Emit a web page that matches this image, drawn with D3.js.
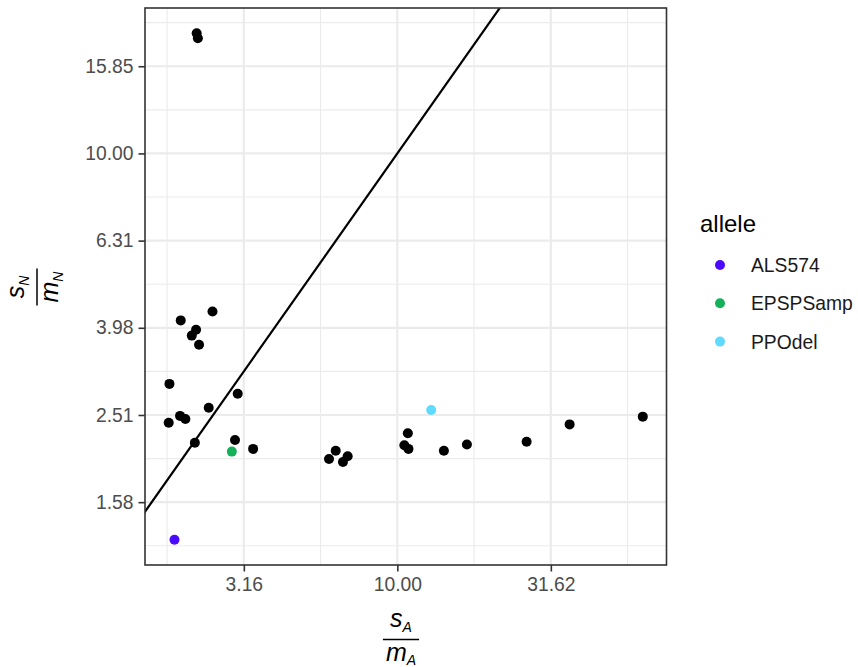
<!DOCTYPE html>
<html>
<head>
<meta charset="utf-8">
<script src="https://cdn.jsdelivr.net/npm/d3@7"></script>
<style>
  body { margin: 0; background: #fff; }
  svg { display: block; font-family: "Liberation Sans", Arial, Helvetica, sans-serif; }
</style>
</head>
<body>
<div id="viz"></div>
<script>
// s_A / m_A ratio per population (x)
var ratioA = [2.22, 2.24, 1.97, 2.50, 2.21, 2.14, 2.26, 1.81, 3.02, 2.43, 1.96, 2.04, 1.80,
  2.19, 2.96, 3.39, 2.89, 1.88, 5.99, 6.30, 6.65, 6.89, 10.82, 10.54, 10.87, 12.89,
  14.18, 16.85, 26.37, 36.41, 63.03];
// s_N / m_N ratio per population (y)
var ratioN = [18.86, 18.37, 4.14, 4.34, 3.94, 3.82, 3.64, 2.96, 2.81, 2.61, 2.50, 2.46, 2.41,
  2.17, 2.20, 2.10, 2.07, 1.30, 1.99, 2.08, 1.96, 2.02, 2.28, 2.14, 2.10, 2.58,
  2.08, 2.15, 2.18, 2.39, 2.49];
// allele label ('' = no highlighted allele)
var allele = ['', '', '', '', '', '', '', '', '', '', '', '', '',
  '', '', '', 'EPSPSamp', 'ALS574', '', '', '', '', '', '', '', 'PPOdel',
  '', '', '', '', ''];

var alleleNames = ['ALS574', 'EPSPSamp', 'PPOdel'];
var alleleColors = ['#4b0aff', '#14b05a', '#5fdbff'];
var xTickLogs = [0.5, 1, 1.5];
var yTickLogs = [0.2, 0.4, 0.6, 0.8, 1, 1.2];

(function () {
  'use strict';
  var W = 858, H = 667,
      left = 145, right = 666.5, top = 8, bottom = 565;

  var svg = d3.select('#viz').append('svg').attr('width', W).attr('height', H);
  svg.append('rect').attr('width', W).attr('height', H).attr('fill', '#fff');

  function expanded(vals) {
    var lo = d3.min(vals, function (v) { return Math.log10(v); }),
        hi = d3.max(vals, function (v) { return Math.log10(v); }),
        pad = (hi - lo) * 0.05;
    return [Math.pow(10, lo - pad), Math.pow(10, hi + pad)];
  }

  var x = d3.scaleLog().domain(expanded(ratioA)).range([left, right]),
      y = d3.scaleLog().domain(expanded(ratioN)).range([bottom, top]);

  var data = ratioA.map(function (a, i) { return {a: a, n: ratioN[i], allele: allele[i]}; });

  // minor breaks halfway between majors (in log space)
  var xMinor = [0.25, 0.75, 1.25, 1.75], yMinor = [0.1, 0.3, 0.5, 0.7, 0.9, 1.1, 1.3];

  var grid = svg.append('g');
  grid.selectAll('.xmin').data(xMinor).enter().append('line')
    .attr('x1', function (d) { return x(Math.pow(10, d)); }).attr('x2', function (d) { return x(Math.pow(10, d)); })
    .attr('y1', top).attr('y2', bottom).attr('stroke', '#ebebeb').attr('stroke-width', 1.1);
  grid.selectAll('.ymin').data(yMinor).enter().append('line')
    .attr('y1', function (d) { return y(Math.pow(10, d)); }).attr('y2', function (d) { return y(Math.pow(10, d)); })
    .attr('x1', left).attr('x2', right).attr('stroke', '#ebebeb').attr('stroke-width', 1.1);
  grid.selectAll('.xmaj').data(xTickLogs).enter().append('line')
    .attr('x1', function (d) { return x(Math.pow(10, d)); }).attr('x2', function (d) { return x(Math.pow(10, d)); })
    .attr('y1', top).attr('y2', bottom).attr('stroke', '#ebebeb').attr('stroke-width', 2.2);
  grid.selectAll('.ymaj').data(yTickLogs).enter().append('line')
    .attr('y1', function (d) { return y(Math.pow(10, d)); }).attr('y2', function (d) { return y(Math.pow(10, d)); })
    .attr('x1', left).attr('x2', right).attr('stroke', '#ebebeb').attr('stroke-width', 2.2);

  // y = x reference line, clipped to the panel
  svg.append('clipPath').attr('id', 'panel').append('rect')
    .attr('x', left).attr('y', top).attr('width', right - left).attr('height', bottom - top);
  var lo = Math.min(x.domain()[0], y.domain()[0]), hi = Math.max(x.domain()[1], y.domain()[1]);
  svg.append('line').attr('clip-path', 'url(#panel)')
    .attr('x1', x(lo)).attr('y1', y(lo)).attr('x2', x(hi)).attr('y2', y(hi))
    .attr('stroke', '#000').attr('stroke-width', 2.2);

  var colorOf = d3.scaleOrdinal().domain(alleleNames).range(alleleColors);

  svg.append('g').selectAll('circle')
    .data(data.filter(function (d) { return !d.allele; }).concat(data.filter(function (d) { return d.allele; })))
    .enter().append('circle')
    .attr('cx', function (d) { return x(d.a); })
    .attr('cy', function (d) { return y(d.n); })
    .attr('r', 5)
    .attr('fill', function (d) { return d.allele ? colorOf(d.allele) : '#000'; });

  // panel border
  svg.append('rect').attr('x', left).attr('y', top).attr('width', right - left).attr('height', bottom - top)
    .attr('fill', 'none').attr('stroke', '#333').attr('stroke-width', 1.6);

  var fmt = d3.format('.2f');
  var xAxis = svg.append('g').attr('transform', 'translate(0,' + bottom + ')')
    .call(d3.axisBottom(x).tickValues(xTickLogs.map(function (d) { return Math.pow(10, d); }))
      .tickFormat(fmt).tickSize(6.5).tickPadding(6));
  var yAxis = svg.append('g').attr('transform', 'translate(' + left + ',0)')
    .call(d3.axisLeft(y).tickValues(yTickLogs.map(function (d) { return Math.pow(10, d); }))
      .tickFormat(fmt).tickSize(6.5).tickPadding(5));
  [xAxis, yAxis].forEach(function (ax) {
    ax.select('.domain').remove();
    ax.selectAll('.tick line').attr('stroke', '#333').attr('stroke-width', 1.6);
    ax.selectAll('.tick text').attr('fill', '#4d4d4d').style('font-size', '19.3px')
      .style('font-family', '"Liberation Sans", Arial, sans-serif');
  });

  // fraction style axis titles
  function fraction(g, num, den, sub) {
    var n = g.append('text').attr('text-anchor', 'middle').attr('y', -13)
      .style('font-size', '25px').style('font-style', 'italic').attr('fill', '#000');
    n.append('tspan').text(num);
    n.append('tspan').attr('dy', 5).style('font-size', '14px').text(sub);
    var m = g.append('text').attr('text-anchor', 'middle').attr('y', 21)
      .style('font-size', '25px').style('font-style', 'italic').attr('fill', '#000');
    m.append('tspan').text(den);
    m.append('tspan').attr('dy', 4.5).style('font-size', '14px').text(sub);
    var w = Math.max(n.node().getComputedTextLength(), m.node().getComputedTextLength()) + 6;
    g.append('line').attr('x1', -w / 2).attr('x2', w / 2).attr('y1', 0).attr('y2', 0)
      .attr('stroke', '#000').attr('stroke-width', 1.5);
  }
  fraction(svg.append('g').attr('transform', 'translate(401,639.5)'), 's', 'm', 'A');
  fraction(svg.append('g').attr('transform', 'translate(37,287) rotate(-90)'), 's', 'm', 'N');

  // legend
  var legend = svg.append('g');
  legend.append('text').attr('x', 700).attr('y', 232).style('font-size', '24px').attr('fill', '#000').text('allele');
  var items = legend.selectAll('.item').data(alleleNames).enter().append('g')
    .attr('transform', function (d, i) { return 'translate(720,' + (265 + i * 38.3) + ')'; });
  items.append('circle').attr('r', 5).attr('fill', function (d) { return colorOf(d); });
  items.append('text').attr('x', 31).attr('y', 7).style('font-size', '19.3px').attr('fill', '#1a1a1a')
    .text(function (d) { return d; });
})();
</script>
</body>
</html>
